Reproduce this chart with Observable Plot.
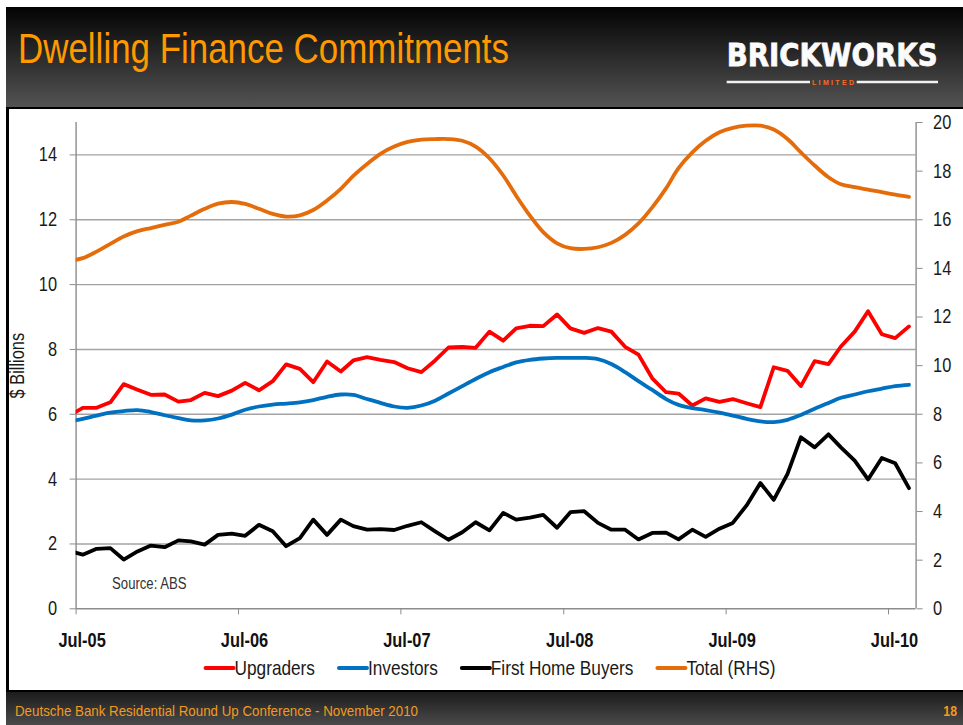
<!DOCTYPE html>
<html>
<head>
<meta charset="utf-8">
<script src="https://cdn.jsdelivr.net/npm/d3@7"></script>
<script src="https://cdn.jsdelivr.net/npm/@observablehq/plot@0.6"></script>
<style>
  html, body { margin: 0; padding: 0; background: #fff; }
  body { width: 963px; height: 725px; position: relative; overflow: hidden;
         font-family: "Liberation Sans", Arial, sans-serif; }
  #header { position: absolute; left: 6px; top: 7px; width: 957px; height: 100px;
            background: linear-gradient(#030303, #535353); border-bottom: 2px solid #000; }
  #headsvg { position: absolute; left: 0; top: 0; }
  #leftbar { position: absolute; left: 6px; top: 109px; width: 3px; height: 582px; background: #000; }
  #footer { position: absolute; left: 6px; top: 690px; width: 957px; height: 35px;
            background: linear-gradient(#1c1c1c, #4a4a4a); border-top: 2px solid #000; box-sizing: border-box; }
  #footsvg { position: absolute; left: 0; top: 0; }
  #chart { position: absolute; left: 0; top: 108px; }
  #legend { position: absolute; left: 0; top: 653px; }
</style>
</head>
<body>
<div id="header"><svg id="headsvg" width="957" height="100"></svg></div>
<div id="leftbar"></div>
<div id="chart"></div>
<svg id="legend" width="963" height="30"></svg>
<div id="footer"><svg id="footsvg" width="957" height="33"></svg></div>
<script>
// ---- Text ----
const titleText = "Dwelling Finance Commitments";
const logoText = "BRICKWORKS";
const logoSubText = "LIMITED";
const yAxisTitle = "$ Billions";
const sourceNote = "Source: ABS";
const footerText = "Deutsche Bank Residential Round Up Conference  - November 2010";
const pageNumber = "18";

// ---- Categories (monthly, plotted mid-month) ----
const months = [
  "2005-06","2005-07","2005-08","2005-09","2005-10","2005-11","2005-12",
  "2006-01","2006-02","2006-03","2006-04","2006-05","2006-06","2006-07","2006-08","2006-09","2006-10","2006-11","2006-12",
  "2007-01","2007-02","2007-03","2007-04","2007-05","2007-06","2007-07","2007-08","2007-09","2007-10","2007-11","2007-12",
  "2008-01","2008-02","2008-03","2008-04","2008-05","2008-06","2008-07","2008-08","2008-09","2008-10","2008-11","2008-12",
  "2009-01","2009-02","2009-03","2009-04","2009-05","2009-06","2009-07","2009-08","2009-09","2009-10","2009-11","2009-12",
  "2010-01","2010-02","2010-03","2010-04","2010-05","2010-06","2010-07","2010-08"
];

// ---- Series values ($ billions; Total on right-hand scale) ----
const upgraders = [5.96,
  6.20,6.20,6.37,6.93,6.76,6.60,6.61,6.39,6.44,6.66,6.56,6.73,6.97,
  6.74,7.02,7.54,7.40,6.99,7.63,7.32,7.66,
  7.76,7.68,7.61,7.42,7.30,7.66,8.06,8.08,8.05,8.55,8.27,8.65,8.73,8.72,9.08,8.65,8.51,8.66,8.55,8.08,7.84,
  7.11,6.68,6.64,6.27,6.49,6.38,6.47,6.34,6.22,7.45,7.34,6.87,7.64,7.55,8.09,8.55,9.18,8.47,8.35,8.71];
const investors = [5.78,
  5.86,5.96,6.05,6.10,6.13,6.07,5.97,5.88,5.81,5.81,5.87,5.99,6.14,
  6.24,6.30,6.33,6.37,6.44,6.54,6.61,6.60,
  6.47,6.35,6.24,6.20,6.27,6.42,6.64,6.87,7.09,7.30,7.46,7.60,7.68,7.72,7.74,7.74,7.74,7.70,7.55,7.30,7.02,
  6.75,6.47,6.29,6.19,6.13,6.05,5.96,5.86,5.78,5.76,5.83,5.98,6.17,6.35,6.51,6.61,6.71,6.79,6.87,6.91];
const firstHomeBuyers = [1.78,
  1.67,1.85,1.87,1.52,1.77,1.95,1.90,2.11,2.08,1.98,2.28,2.32,2.25,
  2.59,2.39,1.93,2.18,2.75,2.28,2.75,2.55,
  2.44,2.46,2.43,2.56,2.67,2.39,2.13,2.36,2.67,2.42,2.96,2.75,2.81,2.90,2.50,2.98,3.01,2.65,2.44,2.44,2.14,
  2.34,2.35,2.14,2.44,2.22,2.47,2.65,3.19,3.88,3.36,4.16,5.29,4.98,5.38,4.98,4.57,3.99,4.65,4.49,3.72];
const totalRHS = [14.31,
  14.42,14.69,15.01,15.31,15.53,15.66,15.79,15.92,16.17,16.45,16.66,16.73,16.65,
  16.45,16.24,16.13,16.18,16.40,16.79,17.27,17.80,
  18.29,18.71,19.01,19.20,19.30,19.32,19.32,19.25,19.01,18.53,17.82,16.99,16.17,15.49,15.03,14.83,14.80,14.87,15.05,15.38,15.85,
  16.51,17.29,18.12,18.77,19.25,19.60,19.78,19.87,19.87,19.71,19.32,18.77,18.23,17.75,17.46,17.34,17.24,17.14,17.03,16.94];

// ---- Axes ----
const xDomain = ["2005-07", "2010-09"];
const xTicks = ["2005-07","2006-07","2007-07","2008-07","2009-07","2010-07"];
const xTickLabels = ["Jul-05","Jul-06","Jul-07","Jul-08","Jul-09","Jul-10"];
const leftTicks = [0,2,4,6,8,10,12,14];
const leftMax = 15;
const rightTicks = [0,2,4,6,8,10,12,14,16,18,20];
const rightMax = 20;

// ---- Legend ----
const seriesNames = ["Upgraders","Investors","First Home Buyers","Total (RHS)"];
const seriesColors = ["#FF0000","#0070C0","#000000","#E46C0A"];

const FONT = '"Liberation Sans", Arial, sans-serif';
const NARROW = 0.82; // Arial -> Arial Narrow
const SVGNS = "http://www.w3.org/2000/svg";

function condenseEl(t, factor) {
  const w = t.getComputedTextLength();
  if (w > 0) {
    t.setAttribute("textLength", (w * factor).toFixed(2));
    t.setAttribute("lengthAdjust", "spacingAndGlyphs");
  }
}
function addText(parent, str, attrs) {
  const t = document.createElementNS(SVGNS, "text");
  for (const [a, v] of Object.entries(attrs)) t.setAttribute(a, v);
  t.textContent = str;
  parent.appendChild(t);
  return t;
}
function addLine(parent, attrs) {
  const l = document.createElementNS(SVGNS, "line");
  for (const [a, v] of Object.entries(attrs)) l.setAttribute(a, v);
  parent.appendChild(l);
  return l;
}

const parseMonth = d3.utcParse("%Y-%m");
const midMonth = s => { const d = parseMonth(s); return new Date(Date.UTC(d.getUTCFullYear(), d.getUTCMonth(), 16)); };
const k = leftMax / rightMax;

const rows = months.map((m, i) => ({
  date: midMonth(m),
  upgraders: upgraders[i],
  investors: investors[i],
  fhb: firstHomeBuyers[i],
  total: totalRHS[i]
}));
const xTickDates = xTicks.map(parseMonth);
const labelOf = d => xTickLabels[xTickDates.findIndex(t => +t === +d)];

const lineOpts = {x: "date", strokeWidth: 3.8, clip: true, strokeLinejoin: "round", strokeLinecap: "round"};

const chart = Plot.plot({
  width: 963,
  height: 545,
  marginTop: 14,
  marginBottom: 44.7,
  marginLeft: 75.6,
  marginRight: 47.4,
  style: {fontFamily: FONT, fontSize: "20px", color: "#1a1a1a", background: "transparent", overflow: "visible"},
  x: {type: "utc", domain: xDomain.map(parseMonth)},
  y: {domain: [0, leftMax]},
  marks: [
    Plot.gridY(leftTicks.filter(d => d > 0), {stroke: "#a3a3a3", strokeOpacity: 1, strokeWidth: 1.4}),
    Plot.ruleY([0], {stroke: "#8c8c8c", strokeWidth: 1.4}),
    Plot.ruleX([parseMonth(xDomain[0])], {stroke: "#8c8c8c", strokeWidth: 1.4}),
    Plot.ruleX([parseMonth(xDomain[1])], {stroke: "#8c8c8c", strokeWidth: 1.4}),
    Plot.axisY(leftTicks, {anchor: "left", tickSize: 6, tickPadding: 13, stroke: "#8c8c8c", fill: "#1a1a1a", label: null}),
    Plot.axisY(rightTicks.map(v => v * k), {anchor: "right", tickSize: 6, tickPadding: 11, stroke: "#8c8c8c", fill: "#1a1a1a",
      tickFormat: d => String(Math.round(d / k)), label: null}),
    Plot.axisX(xTickDates, {anchor: "bottom", tickSize: 6, stroke: "#8c8c8c", fill: "none", label: null, tickFormat: () => ""}),
    Plot.axisX(xTickDates, {anchor: "bottom", tickSize: 0, tickPadding: 24, dx: 6, fill: "#111", fontWeight: "bold",
      label: null, tickFormat: labelOf}),
    Plot.text([yAxisTitle], {text: d => d, frameAnchor: "left", dx: -58.6, rotate: -90, textAnchor: "middle",
      lineAnchor: "middle", fontSize: 20, fill: "#1a1a1a"}),
    Plot.text([sourceNote], {text: d => d, frameAnchor: "bottom-left", dx: 36, dy: -25, lineAnchor: "middle",
      textAnchor: "start", fontSize: 16, fill: "#333"}),
    Plot.line(rows, {...lineOpts, y: "upgraders", stroke: seriesColors[0]}),
    Plot.line(rows, {...lineOpts, y: "investors", stroke: seriesColors[1], curve: "catmull-rom"}),
    Plot.line(rows, {...lineOpts, y: "fhb", stroke: seriesColors[2]}),
    Plot.line(rows, {...lineOpts, y: d => d.total * k, stroke: seriesColors[3], curve: "catmull-rom"})
  ]
});
document.getElementById("chart").appendChild(chart);
chart.querySelectorAll("text").forEach(t => condenseEl(t, NARROW));

// ---- Header: title and logo ----
const head = document.getElementById("headsvg");
addText(head, titleText, {x: 12, y: 56, fill: "#FF9900", "font-family": FONT, "font-size": 42,
  textLength: 491, lengthAdjust: "spacingAndGlyphs"});
const logoG = document.createElementNS(SVGNS, "g");
head.appendChild(logoG);
const logo = addText(logoG, logoText, {x: 0, y: 0, fill: "#fbfbfb", stroke: "#fbfbfb", "stroke-width": 0.8,
  "font-family": "DejaVu Sans, sans-serif", "font-weight": "bold", "font-size": 31.5});
const logoW = logo.getComputedTextLength();
logoG.setAttribute("transform", `translate(720.7,59) scale(${(211 / logoW).toFixed(4)},1)`);
addLine(head, {x1: 720.7, x2: 804, y1: 75, y2: 75, stroke: "#f2f2f2", "stroke-width": 2.5});
addLine(head, {x1: 850.7, x2: 932, y1: 75, y2: 75, stroke: "#f2f2f2", "stroke-width": 2.5});
addText(head, logoSubText, {x: 827, y: 77.5, "text-anchor": "middle", fill: "#FF6A1A", "font-family": FONT,
  "font-weight": "bold", "font-size": 7, textLength: 42, lengthAdjust: "spacing"});

// ---- Footer ----
const foot = document.getElementById("footsvg");
addText(foot, footerText, {x: 9, y: 24, fill: "#F39A1E", "font-family": FONT, "font-size": 15,
  textLength: 403, lengthAdjust: "spacingAndGlyphs"});
const pn = addText(foot, pageNumber, {x: 951, y: 24, "text-anchor": "end", fill: "#F39A1E", "font-family": FONT,
  "font-size": 15, "font-weight": "bold"});
condenseEl(pn, NARROW);

// ---- Legend ----
const leg = document.getElementById("legend");
const items = seriesNames.map((name, i) => {
  const t = addText(leg, name, {y: 22, fill: "#1a1a1a", "font-family": FONT, "font-size": 21});
  const w = t.getComputedTextLength() * NARROW;
  t.setAttribute("textLength", w.toFixed(2));
  t.setAttribute("lengthAdjust", "spacingAndGlyphs");
  return {t, w, color: seriesColors[i]};
});
const swatch = 30, gap = 23;
const total = d3.sum(items, d => swatch + d.w) + gap * (items.length - 1);
let x = 490 - total / 2;
items.forEach(d => {
  addLine(leg, {x1: x + 1, x2: x + 29, y1: 15, y2: 15, stroke: d.color, "stroke-width": 4, "stroke-linecap": "round"});
  d.t.setAttribute("x", (x + swatch).toFixed(2));
  x += swatch + d.w + gap;
});
</script>
</body>
</html>
